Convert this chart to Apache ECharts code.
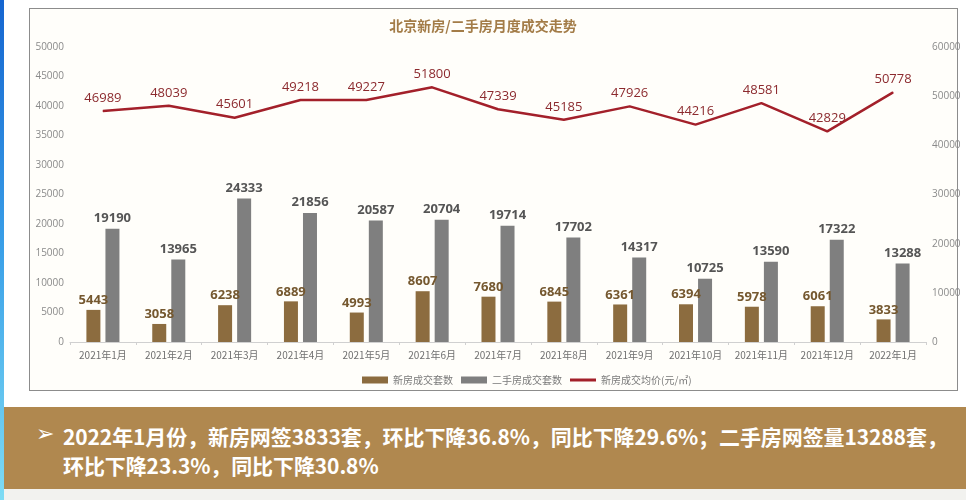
<!DOCTYPE html>
<html>
<head>
<meta charset="utf-8">
<script src="https://cdn.jsdelivr.net/npm/echarts@6/dist/echarts.min.js"></script>
<style>
html,body{margin:0;padding:0;width:966px;height:500px;overflow:hidden;background:#ffffff;}
#strip{position:absolute;left:0;top:0;width:4px;height:500px;background:linear-gradient(#1565d0,#3aa0e8 50%,#7fdcf4);}
#frame{position:absolute;left:29px;top:8px;width:927px;height:381px;border:1.5px solid #8c8c8c;background:#fffefa;}
#chart{position:absolute;left:0;top:0;width:966px;height:400px;}
#band{position:absolute;left:4px;top:407px;width:962px;height:82px;background:#b0884f;}
#below{position:absolute;left:4px;top:489px;width:962px;height:11px;background:#f2f2ef;}
#txt{position:absolute;left:63px;top:422px;color:#ffffff;font-family:"Noto Sans CJK SC","Noto Sans",sans-serif;font-weight:bold;font-size:21px;line-height:29px;letter-spacing:-0.1px;}
#arrow{position:absolute;left:36px;top:421px;color:#ffffff;font-family:"DejaVu Sans",sans-serif;font-size:22px;}
</style>
</head>
<body>
<div id="strip"></div>
<div id="frame"></div>
<div id="chart"></div>
<div id="band"></div>
<div id="below"></div>
<div id="arrow">➢</div>
<div id="txt">2022年1月份，新房网签3833套，环比下降36.8%，同比下降29.6%；二手房网签量13288套，<br>环比下降23.3%，同比下降30.8%</div>
<script>
var categories = ['2021年1月','2021年2月','2021年3月','2021年4月','2021年5月','2021年6月','2021年7月','2021年8月','2021年9月','2021年10月','2021年11月','2021年12月','2022年1月'];
var newHouse = [5443,3058,6238,6889,4993,8607,7680,6845,6361,6394,5978,6061,3833];
var secondHand = [19190,13965,24333,21856,20587,20704,19714,17702,14317,10725,13590,17322,13288];
var avgPrice = [46989,48039,45601,49218,49227,51800,47339,45185,47926,44216,48581,42829,50778];
var seriesNames = ['新房成交套数','二手房成交套数','新房成交均价(元/㎡)'];
var chartTitle = '北京新房/二手房月度成交走势';

var font = '"Open Sans","Noto Sans CJK SC",sans-serif';
var plain = function(v){return String(v);};
var chart = echarts.init(document.getElementById('chart'));
chart.setOption({
  animation:false,
  backgroundColor:'transparent',
  textStyle:{fontFamily:font},
  title:{text:chartTitle,left:'center',top:14,textStyle:{fontSize:14,fontWeight:'bold',color:'#a37c48',fontFamily:'"Noto Sans CJK SC",sans-serif'}},
  legend:{left:357,top:370,itemWidth:26,itemHeight:7,itemGap:8,
    textStyle:{fontSize:10,color:'#7a7a7a',fontFamily:'"Noto Sans CJK SC",sans-serif'},
    data:[{name:seriesNames[0],icon:'rect'},{name:seriesNames[1],icon:'rect'},
          {name:seriesNames[2],icon:'path://M0,0 L26,0 L26,3 L0,3 Z'}]},
  grid:{left:70,right:40,top:47,bottom:58},
  xAxis:{type:'category',data:categories,
    axisLine:{lineStyle:{color:'#d0d0d0'}},
    axisTick:{show:true,length:3,lineStyle:{color:'#d0d0d0'}},
    axisLabel:{fontSize:10,color:'#707070',margin:8,interval:0,fontFamily:'"Noto Sans CJK SC",sans-serif'}},
  yAxis:[
    {type:'value',min:0,max:50000,interval:5000,splitLine:{show:false},axisLine:{show:false},axisTick:{show:false},
     axisLabel:{fontSize:10,color:'#8a8a8a',margin:6,formatter:plain}},
    {type:'value',min:0,max:60000,interval:10000,splitLine:{show:false},axisLine:{show:false},axisTick:{show:false},
     axisLabel:{fontSize:10,color:'#8a8a8a',margin:6,formatter:plain}}
  ],
  series:[
    {name:seriesNames[0],type:'bar',data:newHouse,barWidth:14,barGap:'36%',
     itemStyle:{color:'#8c6c3f'},
     label:{show:true,position:'top',distance:3,fontSize:13,fontWeight:'bold',color:'#75582f'}},
    {name:seriesNames[1],type:'bar',data:secondHand,barWidth:14,
     itemStyle:{color:'#7f7f7f'},
     label:{show:true,position:'top',distance:4,fontSize:13,fontWeight:'bold',color:'#555555'}},
    {name:seriesNames[2],type:'line',yAxisIndex:1,data:avgPrice,symbol:'circle',symbolSize:1,
     lineStyle:{color:'#a3202a',width:2.5},itemStyle:{color:'#a3202a'},
     label:{show:true,position:'top',distance:6,fontSize:13,color:'#8c2a2e'}}
  ]
});
</script>
</body>
</html>
